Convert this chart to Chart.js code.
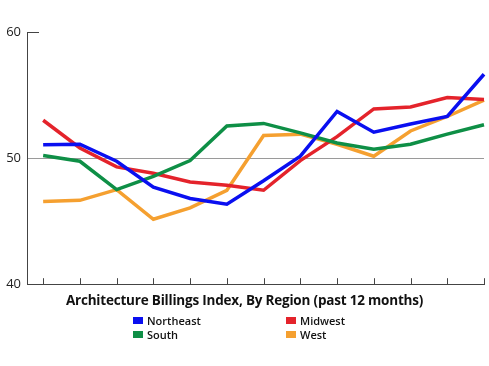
<!DOCTYPE html>
<html>
<head>
<meta charset="utf-8">
<script src="https://cdn.jsdelivr.net/npm/chart.js@4.4.0/dist/chart.umd.min.js"></script>
<style>
  html, body { margin: 0; padding: 0; background: #fff; }
  body { width: 489px; height: 366px; overflow: hidden; font-family: "Open Sans", sans-serif; color: #111; }
  #wrap { position: relative; width: 489px; height: 298px; }
  .title { position: absolute; top: 291px; left: 0; width: 489px; text-align: center; font-weight: 700; font-size: 13.5px; letter-spacing: -0.2px; }
  .legend { position: absolute; top: 314px; left: 133px; width: 260px; display: grid; grid-template-columns: 153px 100px; row-gap: 1px; font-size: 11px; font-weight: 600; }
  .legend span { display: flex; align-items: center; height: 13px; }
  .legend i { display: inline-block; width: 10px; height: 7px; margin-right: 4px; }
</style>
</head>
<body>
<div id="wrap"><canvas id="abi"></canvas></div>
<div class="title">Architecture Billings Index, By Region (past 12 months)</div>
<div class="legend" id="legend"></div>

<script>
// 13 monthly readings, left to right
const months = [0, 1, 2, 3, 4, 5, 6, 7, 8, 9, 10, 11, 12];
const northeast = [51.05, 51.1, 49.75, 47.7, 46.8, 46.35, 48.2, 50.15, 53.7, 52.05, 52.7, 53.3, 56.65];
const midwest   = [53.0, 50.8, 49.3, 48.8, 48.1, 47.85, 47.45, 49.8, 51.7, 53.9, 54.05, 54.8, 54.65];
const south     = [50.2, 49.75, 47.5, 48.55, 49.8, 52.55, 52.75, 52.0, 51.2, 50.7, 51.1, 51.9, 52.65];
const west      = [46.55, 46.65, 47.5, 45.15, 46.05, 47.45, 51.8, 51.9, 51.1, 50.15, 52.15, 53.3, 54.6];
const yTicks = [40, 50, 60];

const series = [
  { label: 'Northeast', data: northeast, color: '#0a0ff0' },
  { label: 'South',     data: south,     color: '#0e8f46' },
  { label: 'Midwest',   data: midwest,   color: '#e4232b' },
  { label: 'West',      data: west,      color: '#f5a030' }
];

// legend order in the picture: Northeast, Midwest / South, West
const legendOrder = ['Northeast', 'Midwest', 'South', 'West'];
document.getElementById('legend').innerHTML = legendOrder.map(name => {
  const s = series.find(x => x.label === name);
  return `<span><i style="background:${s.color}"></i>${s.label}</span>`;
}).join('');

// short marks: x ticks pointing up from the axis, and the stub at 60
const axisMarks = {
  id: 'axisMarks',
  afterDraw(chart) {
    const { ctx, scales: { x, y } } = chart;
    ctx.save();
    ctx.strokeStyle = '#444';
    ctx.lineWidth = 1;
    const base = y.getPixelForValue(40);
    months.forEach(m => {
      const px = Math.round(x.getPixelForValue(m)) + 0.5;
      ctx.beginPath();
      ctx.moveTo(px, base);
      ctx.lineTo(px, base - 6);
      ctx.stroke();
    });
    const top = Math.round(y.getPixelForValue(60)) + 0.5;
    ctx.beginPath();
    ctx.moveTo(x.left, top);
    ctx.lineTo(x.left + 12, top);
    ctx.stroke();
    ctx.restore();
  }
};

new Chart(document.getElementById('abi'), {
  type: 'line',
  data: {
    datasets: series.map(s => ({
      label: s.label,
      data: s.data.map((v, i) => ({ x: months[i], y: v })),
      borderColor: s.color,
      backgroundColor: s.color,
      borderWidth: 3.5,
      pointRadius: 0,
      tension: 0,
      clip: false
    }))
  },
  options: {
    responsive: true,
    maintainAspectRatio: false,
    animation: false,
    layout: { padding: { top: 32, right: 5, bottom: 6, left: 0 } },
    plugins: { legend: { display: false }, tooltip: { enabled: false } },
    scales: {
      x: {
        type: 'linear',
        min: -0.44,
        max: 12,
        ticks: { display: false },
        grid: { display: false },
        border: { display: true, color: '#444', width: 1 },
        afterFit: s => { s.height = 1; }
      },
      y: {
        min: 40,
        max: 60,
        afterBuildTicks: s => { s.ticks = yTicks.map(v => ({ value: v })); },
        ticks: { color: '#222', font: { family: 'Open Sans', size: 13 }, padding: 6 },
        grid: {
          drawTicks: false,
          color: c => c.tick && c.tick.value === 50 ? '#9a9a9a' : 'rgba(0,0,0,0)',
          lineWidth: 1
        },
        border: { display: true, color: '#444', width: 1 },
        afterFit: s => { s.width = 27; }
      }
    }
  },
  plugins: [axisMarks]
});
</script>
</body>
</html>
